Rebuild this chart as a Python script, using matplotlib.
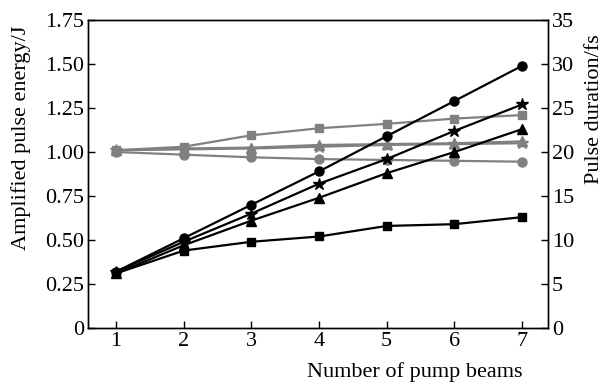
import numpy as np
import matplotlib
matplotlib.use('Agg')
from matplotlib import pyplot as plt

plt.rcParams['font.family'] = ['Liberation Serif', 'DejaVu Serif']
plt.rcParams['mathtext.fontset'] = 'stix'

beams = [1, 2, 3, 4, 5, 6, 7]

# pulse energy (J), left axis
energy_circle = [0.32, 0.51, 0.70, 0.89, 1.09, 1.29, 1.49]
energy_star = [0.32, 0.49, 0.65, 0.82, 0.96, 1.12, 1.27]
energy_tri = [0.31, 0.47, 0.61, 0.74, 0.88, 1.00, 1.13]
energy_square = [0.31, 0.44, 0.49, 0.52, 0.58, 0.59, 0.63]

# pulse duration (fs), right axis
dur_square = [20.2, 20.6, 21.9, 22.7, 23.2, 23.8, 24.2]
dur_tri = [20.2, 20.4, 20.5, 20.8, 20.9, 21.0, 21.2]
dur_star = [20.2, 20.3, 20.4, 20.6, 20.8, 20.9, 21.0]
dur_circle = [20.0, 19.7, 19.4, 19.2, 19.1, 19.0, 18.9]

fig = plt.figure(figsize=(6.04, 3.85), dpi=100)
ax = fig.add_axes([0.146, 0.148, 0.761, 0.8])
ax2 = ax.twinx()

gray = '#808080'
lw = 1.6
ax2.plot(beams, dur_square, color=gray, marker='s', ms=6, lw=lw)
ax2.plot(beams, dur_tri, color=gray, marker='^', ms=7, lw=lw)
ax2.plot(beams, dur_star, color=gray, marker='*', ms=9, lw=lw)
ax2.plot(beams, dur_circle, color=gray, marker='o', ms=6.5, lw=lw)

ax.set_zorder(ax2.get_zorder() + 1)
ax.patch.set_visible(False)
ax.plot(beams, energy_circle, color='black', marker='o', ms=6.5, lw=lw)
ax.plot(beams, energy_star, color='black', marker='*', ms=9, lw=lw)
ax.plot(beams, energy_tri, color='black', marker='^', ms=7, lw=lw)
ax.plot(beams, energy_square, color='black', marker='s', ms=6, lw=lw)

ax.set_xlim(0.59, 7.38)
ax.set_ylim(0, 1.75)
ax2.set_ylim(0, 35)
ax.set_xticks(beams)
ax.set_yticks([0, 0.25, 0.5, 0.75, 1.0, 1.25, 1.5, 1.75])
ax.set_yticklabels(['0', '0.25', '0.50', '0.75', '1.00', '1.25', '1.50', '1.75'])
ax2.set_yticks([0, 5, 10, 15, 20, 25, 30, 35])

fs = 16
ax.tick_params(direction='in', length=5, width=1, labelsize=fs, pad=3)
ax2.tick_params(direction='in', length=5, width=1, labelsize=fs, pad=3)
for a in (ax, ax2):
    for s in a.spines.values():
        s.set_linewidth(1)

ax.set_ylabel('Amplified pulse energy/J', fontsize=fs, va='center', ha='center')
ax.yaxis.set_label_coords(-0.146, 0.617)
ax2.set_ylabel('Pulse duration/fs', fontsize=fs, va='center', ha='center')
ax2.yaxis.set_label_coords(1.102, 0.711)
ax.set_xlabel('Number of pump beams', fontsize=fs, ha='right')
ax.xaxis.set_label_coords(0.945, -0.112)

fig.savefig('out.png', dpi=100)
